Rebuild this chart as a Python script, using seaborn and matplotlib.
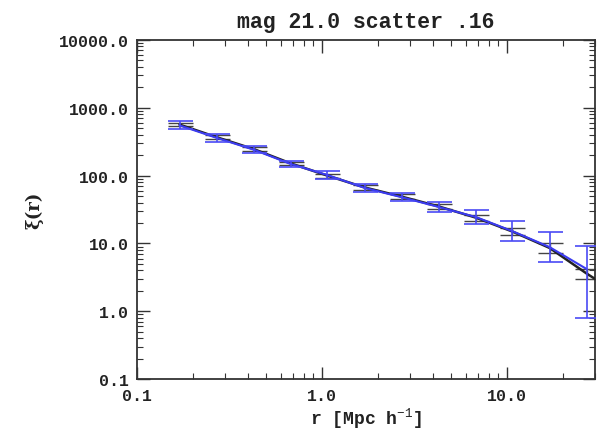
import numpy as np
import pandas as pd
import matplotlib
matplotlib.use("Agg")
import matplotlib.pyplot as plt
import seaborn as sns
from matplotlib.ticker import LogLocator, FormatStrFormatter, NullFormatter

# ---- data ----
r_bins = [0.17, 0.27, 0.43, 0.68, 1.07, 1.7, 2.7, 4.3, 6.8, 10.7, 17.0, 27.0]
xi_obs = [550, 360, 240, 148, 102, 66, 48, 34.4, 24.5, 15.2, 8.85, 4.2]
obs_err_lo = [71, 46, 26, 16, 13, 8.5, 6.2, 5.4, 5.1, 4.4, 3.5, 3.4]
obs_err_hi = [81, 53, 29, 18, 15, 10, 7.0, 6.4, 6.5, 6.2, 5.8, 4.9]

r_model = [0.17, 0.27, 0.43, 0.68, 1.07, 1.7, 2.7, 4.3, 6.8, 10.7, 17.0, 27.0, 43.0]
xi_model = [565, 368, 245, 151, 100, 67, 49, 35, 24, 15, 8.6, 3.6, 1.6]
model_err = [35, 23, 15, 10, 7, 5, 4, 3, 2.5, 1.8, 1.4, 0.6, 0.3]

title = "mag 21.0 scatter .16"
xlabel = "r [Mpc h$^{-1}$]"
ylabel = "ξ(r)"

sns.set_theme(style="ticks")
plt.rcParams['font.family'] = ['Liberation Mono', 'DejaVu Sans']
plt.rcParams['mathtext.fontset'] = 'custom'
plt.rcParams['mathtext.rm'] = 'Liberation Mono'
plt.rcParams['mathtext.it'] = 'Liberation Mono'
plt.rcParams['mathtext.bf'] = 'Liberation Mono:bold'

fig = plt.figure(figsize=(6.03, 4.35), dpi=100)
ax = fig.add_axes([0.227, 0.126, 0.760, 0.780])

df_model = pd.DataFrame({"r": r_model, "xi": xi_model})
df_obs = pd.DataFrame({"r": r_bins, "xi": xi_obs})

ax.errorbar(r_model, xi_model, yerr=model_err, fmt='none', ecolor='#444444',
            elinewidth=1.0, capsize=9, capthick=1.0, zorder=2)
sns.lineplot(data=df_model, x="r", y="xi", ax=ax, color='#222222', linewidth=1.8,
             zorder=3, estimator=None, sort=False)
sns.lineplot(data=df_obs, x="r", y="xi", ax=ax, color='#3b3bf0', linewidth=1.5,
             zorder=4, estimator=None, sort=False)
ax.errorbar(r_bins, xi_obs, yerr=[obs_err_lo, obs_err_hi], fmt='none',
            ecolor='#4a4af5', elinewidth=1.2, capsize=9, capthick=1.2, zorder=5)

ax.set_xscale('log')
ax.set_yscale('log')
ax.set_xlim(0.1, 30)
ax.set_ylim(0.1, 10000)

ax.xaxis.set_major_locator(LogLocator(base=10, numticks=10))
ax.yaxis.set_major_locator(LogLocator(base=10, numticks=10))
ax.xaxis.set_minor_locator(LogLocator(base=10, subs=np.arange(2, 10), numticks=20))
ax.yaxis.set_minor_locator(LogLocator(base=10, subs=np.arange(2, 10), numticks=20))
ax.xaxis.set_major_formatter(FormatStrFormatter('%.1f'))
ax.yaxis.set_major_formatter(FormatStrFormatter('%.1f'))
ax.xaxis.set_minor_formatter(NullFormatter())
ax.yaxis.set_minor_formatter(NullFormatter())

ax.tick_params(which='both', direction='in', top=True, right=True, color='#333333')
ax.tick_params(which='major', length=9, width=1.0, labelsize=12, pad=6)
ax.tick_params(which='minor', length=4.5, width=0.8)
for lab in ax.get_xticklabels() + ax.get_yticklabels():
    lab.set_fontweight('bold')
    lab.set_color('#222222')

for s in ax.spines.values():
    s.set_linewidth(1.3)
    s.set_color('#333333')

ax.set_title(title, fontsize=15.5, fontweight='bold', color='#222222', pad=9)
ax.set_xlabel(xlabel, fontsize=13, fontweight='bold', color='#222222', labelpad=2)
ax.set_ylabel(ylabel, fontsize=13, fontweight='bold', color='#222222',
              family=['DejaVu Serif', 'DejaVu Sans'])
ax.yaxis.set_label_coords(-0.205, 0.5)

fig.savefig("out.png", dpi=100)
